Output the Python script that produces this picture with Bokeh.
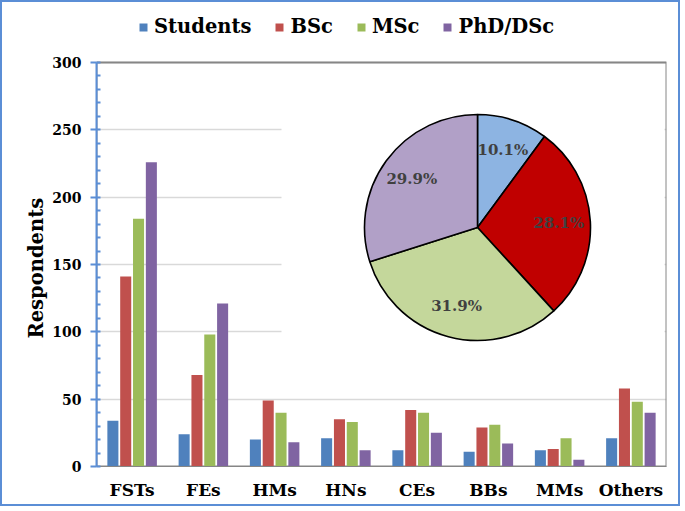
import math
from bokeh.plotting import figure
from bokeh.models import (ColumnDataSource, Range1d, FixedTicker, Title,
                          SingleIntervalTicker, Legend, LegendItem)
from bokeh.core.properties import value
from bokeh.embed import file_html
from bokeh.resources import INLINE

# ---------------- data ----------------
categories = ["FSTs", "FEs", "HMs", "HNs", "CEs", "BBs", "MMs", "Others"]
students = [34, 24, 20, 21, 12, 11, 12, 21]
bsc = [141, 68, 49, 35, 42, 29, 13, 58]
msc = [184, 98, 40, 33, 40, 31, 21, 48]
phd = [226, 121, 18, 12, 25, 17, 5, 40]
series_names = ["Students", "BSc", "MSc", "PhD/DSc"]
bar_colors = ["#4f81bd", "#c0504d", "#9bbb59", "#8064a2"]
y_max = 300

pie_shares = [10.1, 28.1, 31.9, 29.9]
pie_labels = ["10.1%", "28.1%", "31.9%", "29.9%"]
pie_colors = ["#8db4e2", "#c00000", "#c4d79b", "#b1a0c7"]

# ---------------- layout constants ----------------
W, H = 680, 506
ML, MR, MT, MB = 94, 16, 8, 42
FW, FH = W - ML - MR, H - MT - MB
PLOT_PX = 404            # pixel height of the 0..300 value span
FONT = value("DejaVu Serif")

n = len(categories)
centers = [i + 0.5 for i in range(n)]
series = [students, bsc, msc, phd]
offsets = [-0.27, -0.09, 0.09, 0.27]

p = figure(x_range=Range1d(0, n), y_range=Range1d(0, y_max * FH / PLOT_PX),
           width=W, height=H, output_backend="svg", toolbar_location=None,
           min_border_left=ML, min_border_right=MR, min_border_top=MT,
           min_border_bottom=MB,
           styles={"border": "2px solid #5b8ed6"})
p.extra_x_ranges = {"px": Range1d(0, FW)}
p.extra_y_ranges = {"py": Range1d(0, FH)}

# white inset background for the pie (hides gridlines behind it)
p.quad(left=[185], right=[FW - 2], bottom=[106], top=[PLOT_PX - 2],
       x_range_name="px", y_range_name="py", fill_color="white",
       line_color=None)

# plot-area border
p.quad(left=[0], right=[n], bottom=[0], top=[y_max], fill_color=None,
       line_color="#868686", line_width=2)

renderers = []
for vals, off, col in zip(series, offsets, bar_colors):
    s = ColumnDataSource(dict(x=[c + off for c in centers], top=vals))
    r = p.vbar(x="x", top="top", width=0.155, source=s,
               fill_color=col, line_color=None)
    renderers.append(r)

# pie
total = sum(pie_shares)
starts, ends, lx, ly = [], [], [], []
cx, cy, R = 381, 239, 113
cum = 0.0
for s in pie_shares:
    a0 = cum / total * 2 * math.pi
    a1 = (cum + s) / total * 2 * math.pi
    starts.append(math.pi / 2 - a0)
    ends.append(math.pi / 2 - a1)
    mid = (a0 + a1) / 2
    lx.append(cx + 0.72 * R * math.sin(mid))
    ly.append(cy + 0.72 * R * math.cos(mid))
    cum += s
pie_src = ColumnDataSource(dict(start=starts, end=ends, color=pie_colors,
                                lx=lx, ly=ly, label=pie_labels))
p.wedge(x=cx, y=cy, radius=R, radius_units="screen", start_angle="start",
        end_angle="end", direction="clock", fill_color="color",
        line_color="black", line_width=1.6, source=pie_src,
        x_range_name="px", y_range_name="py")
p.text(x="lx", y="ly", text="label", source=pie_src, x_range_name="px",
       y_range_name="py", text_font=FONT, text_font_style="bold",
       text_font_size="15px", text_color="#404040", text_align="center",
       text_baseline="middle")

# axes
p.yaxis.bounds = (0, y_max)
p.yaxis.ticker = SingleIntervalTicker(interval=50, num_minor_ticks=5)
p.yaxis.axis_line_color = "#5b8ed6"
p.yaxis.axis_line_width = 2
p.yaxis.major_tick_line_color = "#5b8ed6"
p.yaxis.major_tick_line_width = 2
p.yaxis.major_tick_out = 6
p.yaxis.major_tick_in = 0
p.yaxis.minor_tick_line_color = "#5b8ed6"
p.yaxis.minor_tick_line_width = 2
p.yaxis.minor_tick_in = 4
p.yaxis.minor_tick_out = 0
p.yaxis.major_label_text_font = "DejaVu Serif"
p.yaxis.major_label_text_font_style = "bold"
p.yaxis.major_label_text_font_size = "14px"
p.yaxis.major_label_text_color = "black"
p.yaxis.major_label_standoff = 9

ylabel = Title(text="Respondents", align="left", offset=128, standoff=4,
               text_font="DejaVu Serif", text_font_style="bold",
               text_font_size="19.5px", text_color="black")
p.add_layout(ylabel, "left")

p.xaxis.ticker = FixedTicker(ticks=centers, minor_ticks=[])
p.xaxis.major_label_overrides = {c: lab for c, lab in zip(centers, categories)}
p.xaxis.axis_line_color = "#868686"
p.xaxis.major_tick_line_color = None
p.xaxis.minor_tick_line_color = None
p.xaxis.major_label_text_font = "DejaVu Serif"
p.xaxis.major_label_text_font_style = "bold"
p.xaxis.major_label_text_font_size = "17px"
p.xaxis.major_label_text_color = "black"
p.xaxis.major_label_standoff = 7

p.xgrid.grid_line_color = None
p.ygrid.grid_line_color = "#d9d9d9"
p.ygrid.grid_line_width = 1.5
p.outline_line_color = None
p.background_fill_color = "white"
p.border_fill_color = "white"

legend = Legend(items=[LegendItem(label=nm, renderers=[r])
                       for nm, r in zip(series_names, renderers)],
                location=(42, FH - 28), orientation="horizontal",
                padding=0, margin=0, spacing=23, glyph_width=10,
                glyph_height=10, label_standoff=6, label_height=20,
                label_text_font="DejaVu Serif", label_text_font_style="bold",
                label_text_font_size="19.5px", label_text_color="black",
                background_fill_alpha=0, border_line_color=None)
p.add_layout(legend)

open("out.html", "w").write(file_html(p, INLINE))
